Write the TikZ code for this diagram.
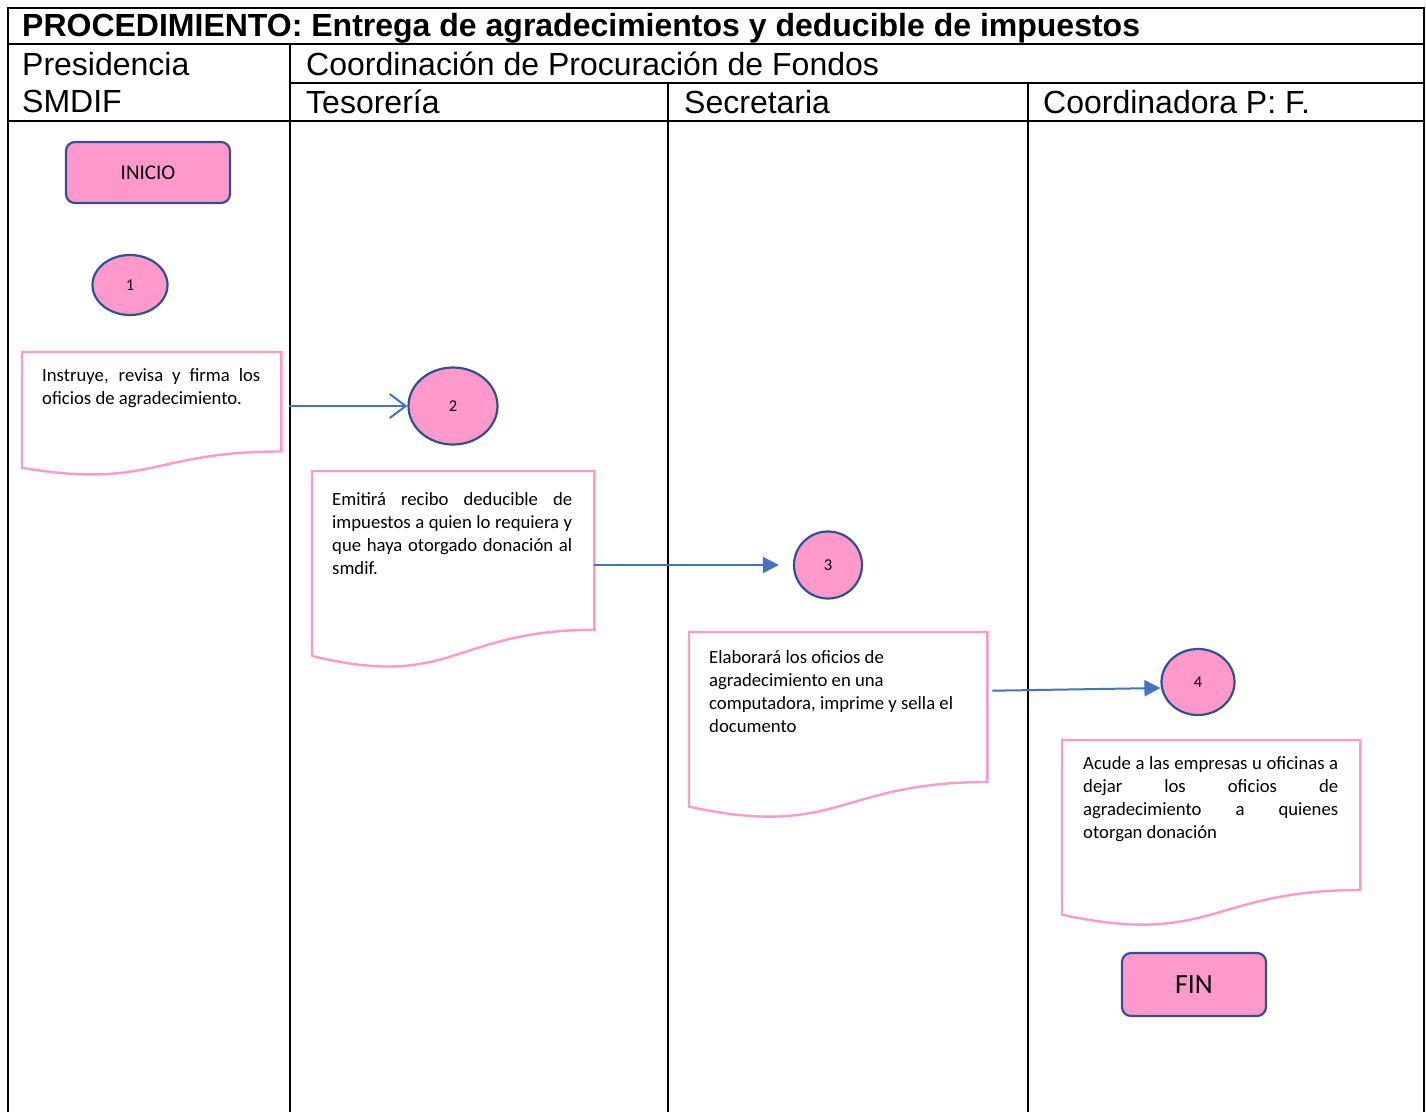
\documentclass[tikz,border=0pt]{standalone}
\usepackage{fontspec}
\setmainfont{Carlito}
\newfontfamily\headfont{Liberation Sans}
\usetikzlibrary{arrows.meta,shapes.geometric,calc}
\definecolor{pinkfill}{HTML}{FF99CC}
\definecolor{shapeblue}{HTML}{2F528F}
\definecolor{docpink}{HTML}{FF99CC}
\definecolor{arrowblue}{HTML}{4472C4}
\setlength{\parindent}{0pt}

% document symbol: node (for anchors) plus wavy-bottom outline
% #1 name, #2 x, #3 y (top left), #4 width, #5 height
\newcommand\docsymbol[5]{%
  \node[minimum width=#4, minimum height=#5, anchor=north west, inner sep=0] (#1) at (#2,#3) {};
  \draw[docline] (#1.north west) -- (#1.north east)
    -- ($(#1.north east)+(0,0.802*#5)$)
    .. controls ($(#1.north)+(0,0.802*#5)$) and ($(#1.north)+(0,1.1075*#5)$)
    .. ($(#1.north west)+(0,0.934*#5)$) -- cycle;
}

\begin{document}
\tolerance=10000
\hyphenpenalty=10000
\exhyphenpenalty=10000
\begin{tikzpicture}[x=1pt,y=-1pt,
  grid/.style={line width=1.8pt, black},
  head/.style={anchor=base west, inner sep=0, font=\headfont\fontsize{32}{38}\selectfont},
  terminal/.style={draw=shapeblue, fill=pinkfill, line width=2.2pt, rounded corners=9pt, inner sep=0},
  conn/.style={ellipse, draw=shapeblue, fill=pinkfill, line width=2.2pt, inner sep=0, font=\fontsize{16.5}{19}\selectfont},
  docline/.style={draw=docpink, line width=2.4pt},
  doctext/.style={anchor=north west, inner sep=0, font=\fontsize{18.7}{23}\selectfont},
  flow/.style={draw=arrowblue, line width=2pt},
]
\path[use as bounding box, fill=white] (0,0) rectangle (1426,1112);

% swimlane table
\draw[grid] (8,1112) -- (8,8) -- (1424,8) -- (1424,1112);
\draw[grid] (8,44) -- (1424,44);
\draw[grid] (290,83) -- (1424,83);
\draw[grid] (8,121) -- (1424,121);
\draw[grid] (290,44) -- (290,1112);
\draw[grid] (668,83) -- (668,1112);
\draw[grid] (1028,83) -- (1028,1112);

% headings
\node[head, font=\headfont\bfseries\fontsize{32}{38}\selectfont] (title) at (22,36)
  {PROCEDIMIENTO: Entrega de agradecimientos y deducible de impuestos};
\node[head] (presA) at (22,75) {Presidencia};
\node[head] (presB) at (22,112) {SMDIF};
\node[head] (coord) at (306,75) {Coordinación de Procuración de Fondos};
\node[head] (teso) at (306,113) {Tesorería};
\node[head] (secr) at (684,113) {Secretaria};
\node[head] (cpf) at (1043,113) {Coordinadora P: F.};

% start / end
\node[terminal, minimum width=164pt, minimum height=61pt, font=\fontsize{21}{25}\selectfont]
  (inicio) at (148,172.5) {INICIO};
\node[terminal, minimum width=144pt, minimum height=63pt, font=\fontsize{27.7}{32}\selectfont]
  (fin) at (1194,984.5) {FIN};

% connectors
\node[conn, minimum width=75pt, minimum height=60pt] (c1) at (130,285) {1};
\node[conn, minimum width=89pt, minimum height=77pt] (c2) at (453,406) {2};
\node[conn, minimum width=68pt, minimum height=67pt] (c3) at (828,565) {3};
\node[conn, minimum width=73pt, minimum height=66pt] (c4) at (1198,682) {4};

% documents
\docsymbol{d1}{22}{352}{259}{124}
\docsymbol{d2}{312}{471}{282}{198}
\docsymbol{d3}{689}{632}{298}{187}
\docsymbol{d4}{1062}{740}{298}{187}

\node[doctext, text width=218pt, align=justify] (t1) at (42,365)
  {\strut Instruye, revisa y firma los\linebreak oficios de agradecimiento.};
\node[doctext, text width=240pt, align=justify] (t2) at (332,489)
  {\strut Emitirá recibo deducible de\linebreak impuestos a quien lo requiera y\linebreak que haya otorgado donación al\linebreak smdif.};
\node[doctext, text width=258pt, align=flush left] (t3) at (709,647)
  {\strut Elaborará los oficios de\\agradecimiento en una\\computadora, imprime y sella el\\documento};
\node[doctext, text width=255pt, align=justify] (t4) at (1083,753)
  {\strut Acude a las empresas u oficinas a\linebreak dejar los oficios de\linebreak agradecimiento a quienes\linebreak otorgan donación};

% flow arrows
\coordinate (s1) at ([xshift=8pt]d1.east);
\draw[flow, -{Straight Barb[length=16pt,width=24pt]}] (s1 |- c2.west) -- (c2.west);
\draw[flow, -{Triangle[length=16pt,width=16pt]}] (d2.east |- c3.west) -- ([xshift=-14pt]c3.west);
\coordinate (s3) at ([shift={(5,-35)}]d3.east);
\draw[flow, -{Triangle[length=16pt,width=16pt]}] (s3) -- ([yshift=-6pt]c4.west);
\end{tikzpicture}
\end{document}
